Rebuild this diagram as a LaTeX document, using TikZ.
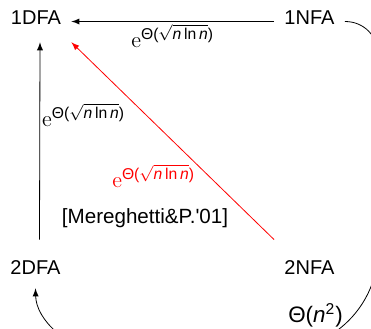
\documentclass[tikz,border=0pt]{standalone}
\usepackage{amsmath}
\usepackage{fontspec}
\setsansfont{Liberation Sans}
\usetikzlibrary{positioning}
\newcommand{\sfn}{\textsf{\itshape n}}
\newcommand{\sfTheta}{\textsf{Θ}}
\newcommand{\bound}{\mathrm{e}^{\sfTheta\textsf{(}\sqrt{\sfn\,\textsf{ln}\,\sfn}\textsf{)}}}
\begin{document}
\begin{tikzpicture}[x=0.5pt,y=-0.5pt,>=latex,
	auto/.style={font=\sffamily,inner xsep=5pt,inner ysep=5pt,text depth=3.5pt},
	low/.style={text height=12pt},
	lbl/.style={font=\fontsize{11.2}{13}\selectfont}]

	\useasboundingbox (0,0) rectangle (371,328);
	\clip (0,0) rectangle (371,328);

	\node[auto] (dfa1) at (36,21.5) {1DFA};
	\node[auto] (nfa1) at (309.5,21.5) {1NFA};
	\node[auto,low] (dfa2) at (35.5,265.5) {2DFA};
	\node[auto,low] (nfa2) at (309.5,265.5) {2NFA};

	\node[font=\sffamily\fontsize{10.3}{12}\selectfont] (cite) at (145,218.5) {[Mereghetti\&P.\textquotesingle01]};

	\draw[->] (nfa1) -- node[lbl,below,inner sep=1pt]{$\bound$} (dfa1);
	\draw[->] ([xshift=2pt]dfa2.north) -- node[lbl,right,pos=0.63,inner sep=1pt]{$\bound$} ([xshift=2pt]dfa1.south);
	\draw[->,red] (nfa2.north west) -- node[lbl,left=3.5pt,pos=0.32]{$\bound$} (dfa1.south east);
	\draw[->] (nfa1.east) .. controls (364,21.5) and (378,36) .. (378,55)
		-- (378,250)
		.. controls (378,305) and (333,350) .. (278,350) node[lbl,left=2pt,pos=0.45]{$\sfTheta\textsf{(}\sfn^{\textsf{2}}\textsf{)}$}
		-- (104,350)
		.. controls (68,350) and (36,320) .. ([yshift=1.5pt]dfa2.south);

\end{tikzpicture}
\end{document}
